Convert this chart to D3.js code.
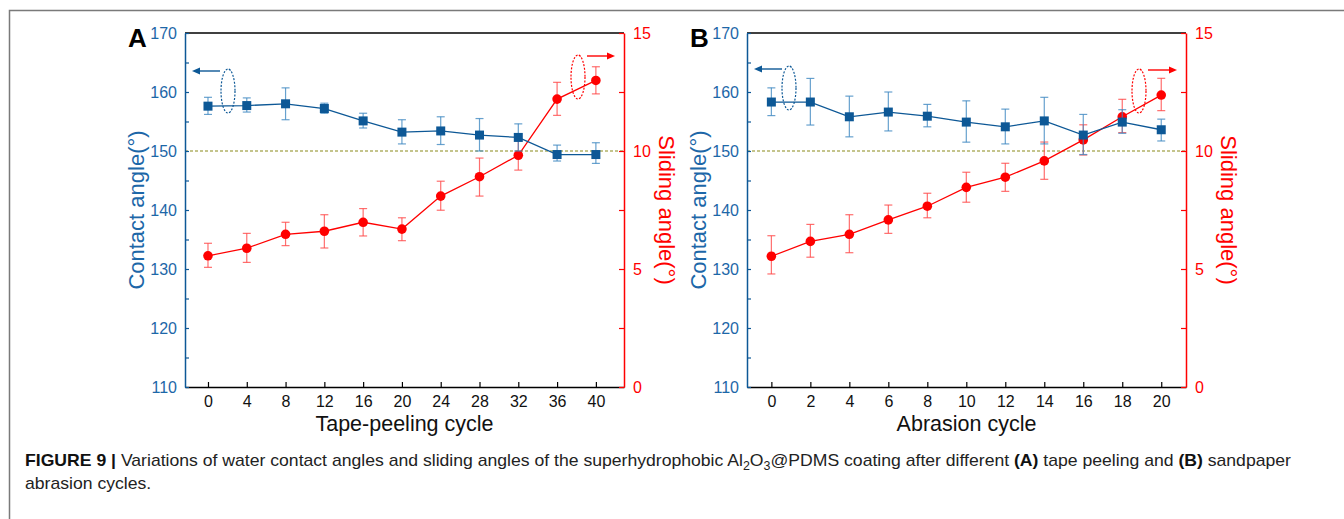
<!DOCTYPE html>
<html>
<head>
<meta charset="utf-8">
<script src="https://cdn.jsdelivr.net/npm/d3@7"></script>
<style>
  body { margin: 0; background: #fff; }
  svg { display: block; font-family: 'Liberation Sans', Arial, sans-serif; }
</style>
</head>
<body>
<div id="chart"></div>
<script>
// panel A: tape peeling
const peelCycles = [0, 4, 8, 12, 16, 20, 24, 28, 32, 36, 40]
const peelContact = [157.6, 157.7, 158.0, 157.2, 155.1, 153.2, 153.4, 152.7, 152.3, 149.4, 149.4]
const peelContactHi = [159.1, 159.0, 160.7, 158.1, 156.4, 155.3, 155.8, 155.5, 154.6, 151.0, 151.4]
const peelContactLo = [156.2, 156.6, 155.3, 156.4, 153.9, 151.2, 151.1, 150.0, 150.0, 148.3, 147.9]
const peelSliding = [5.56, 5.88, 6.47, 6.60, 6.98, 6.69, 8.09, 8.91, 9.82, 12.20, 12.99]
const peelSlidingHi = [6.09, 6.51, 6.98, 7.30, 7.56, 7.17, 8.72, 9.70, 10.44, 12.91, 13.57]
const peelSlidingLo = [5.07, 5.28, 5.99, 5.89, 6.40, 6.20, 7.49, 8.09, 9.19, 11.51, 12.42]

// panel B: sandpaper abrasion
const abrCycles = [0, 2, 4, 6, 8, 10, 12, 14, 16, 18, 20]
const abrContact = [158.3, 158.3, 155.8, 156.6, 155.9, 154.9, 154.1, 155.1, 152.7, 154.9, 153.6]
const abrContactHi = [160.7, 162.3, 159.3, 160.0, 157.9, 158.5, 157.1, 159.1, 156.2, 157.0, 155.4]
const abrContactLo = [156.0, 154.4, 152.4, 153.4, 154.1, 151.5, 151.2, 151.2, 149.4, 153.0, 151.7]
const abrSliding = [5.54, 6.17, 6.47, 7.08, 7.66, 8.46, 8.89, 9.58, 10.47, 11.45, 12.37]
const abrSlidingHi = [6.41, 6.89, 7.30, 7.71, 8.21, 9.10, 9.48, 10.38, 11.11, 12.19, 13.08]
const abrSlidingLo = [4.79, 5.50, 5.69, 6.51, 7.17, 7.83, 8.29, 8.80, 9.83, 10.78, 11.71]

const contactTicks = [110, 120, 130, 140, 150, 160, 170]
const slidingTicks = [0, 5, 10, 15]

const blue = '#0d5896'
const blueText = '#1d67a8'
const red = '#ff0000'

const svg = d3.select('#chart').append('svg')
  .attr('width', 1344)
  .attr('height', 519)

// outer frame
svg.append('path')
  .attr('d', 'M9.5,519 V10.5 H1344')
  .attr('fill', 'none')
  .attr('stroke', '#7a7a7a')
  .attr('stroke-width', 1.5)

function drawPanel ({ letter, left, right, xDomain, cycles, xTicks, contact, cHi, cLo, sliding, sHi, sLo, xLabel, blueMark, redMark }) {
  const top = 33
  const bottom = 387
  const x = d3.scaleLinear().domain(xDomain).range([left, right])
  const yL = d3.scaleLinear().domain([110, 170]).range([bottom, top])
  const yR = d3.scaleLinear().domain([0, 15]).range([bottom, top])
  const g = svg.append('g')

  // 150 degree reference line
  g.append('line')
    .attr('x1', left).attr('x2', right)
    .attr('y1', yL(150)).attr('y2', yL(150))
    .attr('stroke', '#8a8a1a')
    .attr('stroke-width', 1.2)
    .attr('stroke-dasharray', '3,2')

  // top border + bottom axis
  g.append('line')
    .attr('x1', left).attr('x2', right).attr('y1', top).attr('y2', top)
    .attr('stroke', '#000').attr('stroke-width', 1.5)

  const xAxis = g.append('g')
    .attr('transform', `translate(0,${bottom})`)
    .call(d3.axisBottom(x).tickValues(xTicks).tickSizeInner(-5).tickSizeOuter(0).tickPadding(9))
  xAxis.select('.domain').attr('stroke', '#000').attr('stroke-width', 1.5)
  xAxis.selectAll('.tick line').attr('stroke', '#000').attr('stroke-width', 1.2)
  xAxis.selectAll('.tick text').attr('font-size', 16).attr('font-family', 'Liberation Sans, Arial').attr('fill', '#111')

  // left axis
  const yAxisL = g.append('g')
    .attr('transform', `translate(${left},0)`)
    .call(d3.axisLeft(yL).tickValues(d3.range(110, 171, 5)).tickSizeInner(-4).tickSizeOuter(0).tickPadding(8)
      .tickFormat(d => contactTicks.includes(d) ? d : ''))
  yAxisL.select('.domain').attr('stroke', blue).attr('stroke-width', 1.5)
  yAxisL.selectAll('.tick line').attr('stroke', blue).attr('stroke-width', 1.2)
  yAxisL.selectAll('.tick text').attr('font-size', 16).attr('font-family', 'Liberation Sans, Arial').attr('fill', blueText)

  // right axis
  const yAxisR = g.append('g')
    .attr('transform', `translate(${right},0)`)
    .call(d3.axisRight(yR).tickValues(d3.range(0, 15.1, 2.5)).tickSizeInner(-5).tickSizeOuter(0).tickPadding(9)
      .tickFormat(d => slidingTicks.includes(d) ? d : ''))
  yAxisR.select('.domain').attr('stroke', red).attr('stroke-width', 1.5)
  yAxisR.selectAll('.tick line').attr('stroke', red).attr('stroke-width', 1.2)
  yAxisR.selectAll('.tick text').attr('font-size', 16).attr('font-family', 'Liberation Sans, Arial').attr('fill', red)

  // axis titles
  g.append('text')
    .attr('x', (left + right) / 2).attr('y', 431)
    .attr('text-anchor', 'middle')
    .attr('font-size', 21.5).attr('fill', '#111')
    .text(xLabel)
  g.append('text')
    .attr('transform', `translate(${left - 49},${(top + bottom) / 2}) rotate(-90)`)
    .attr('text-anchor', 'middle').attr('dy', '0.35em')
    .attr('font-size', 22).attr('fill', blueText)
    .text('Contact angle(°)')
  g.append('text')
    .attr('transform', `translate(${right + 43},${(top + bottom) / 2}) rotate(90)`)
    .attr('text-anchor', 'middle').attr('dy', '0.35em')
    .attr('font-size', 22).attr('fill', red)
    .text('Sliding angle(°)')

  g.append('text')
    .attr('x', left - 57).attr('y', 47)
    .attr('font-size', 26).attr('font-weight', 'bold').attr('fill', '#000')
    .text(letter)

  // sliding angle series (red)
  const sData = cycles.map((c, i) => ({ c, v: sliding[i], hi: sHi[i], lo: sLo[i] }))
  drawErrorBars(g, sData, x, yR, '#ff4a4a')
  g.append('path')
    .datum(sData)
    .attr('fill', 'none').attr('stroke', red).attr('stroke-width', 1.3)
    .attr('d', d3.line().x(d => x(d.c)).y(d => yR(d.v)))
  g.selectAll('.sdot').data(sData).enter().append('circle')
    .attr('cx', d => x(d.c)).attr('cy', d => yR(d.v)).attr('r', 4.8)
    .attr('fill', red)

  // contact angle series (blue)
  const cData = cycles.map((c, i) => ({ c, v: contact[i], hi: cHi[i], lo: cLo[i] }))
  drawErrorBars(g, cData, x, yL, '#4189c2')
  g.append('path')
    .datum(cData)
    .attr('fill', 'none').attr('stroke', blue).attr('stroke-width', 1.3)
    .attr('d', d3.line().x(d => x(d.c)).y(d => yL(d.v)))
  g.selectAll('.cdot').data(cData).enter().append('rect')
    .attr('x', d => x(d.c) - 4.5).attr('y', d => yL(d.v) - 4.5)
    .attr('width', 9).attr('height', 9)
    .attr('fill', blue)

  // series markers: dashed ellipses with arrows
  drawMarker(g, blueMark, blue, -1)
  drawMarker(g, redMark, red, 1)
}

function drawErrorBars (g, data, x, y, color) {
  const eb = g.append('g').attr('stroke', color).attr('stroke-width', 1.2).attr('stroke-opacity', 0.8)
  data.forEach(d => {
    const cx = x(d.c)
    eb.append('line').attr('x1', cx).attr('x2', cx).attr('y1', y(d.hi)).attr('y2', y(d.lo))
    eb.append('line').attr('x1', cx - 4).attr('x2', cx + 4).attr('y1', y(d.hi)).attr('y2', y(d.hi))
    eb.append('line').attr('x1', cx - 4).attr('x2', cx + 4).attr('y1', y(d.lo)).attr('y2', y(d.lo))
  })
}

function drawMarker (g, m, color, dir) {
  g.append('ellipse')
    .attr('cx', m.cx).attr('cy', m.cy).attr('rx', 7).attr('ry', 22)
    .attr('fill', 'none').attr('stroke', color).attr('stroke-width', 1.2)
    .attr('stroke-dasharray', '2,1.5')
  const x2 = m.ax2
  g.append('line')
    .attr('x1', m.ax1).attr('x2', x2 - dir * 6).attr('y1', m.ay).attr('y2', m.ay)
    .attr('stroke', color).attr('stroke-width', 1.4)
  g.append('path')
    .attr('d', `M${x2},${m.ay} L${x2 - dir * 8},${m.ay - 3.5} L${x2 - dir * 8},${m.ay + 3.5} Z`)
    .attr('fill', color)
}

drawPanel({
  letter: 'A', left: 185, right: 624, xDomain: [-2.37, 42.9],
  cycles: peelCycles, xTicks: peelCycles,
  contact: peelContact, cHi: peelContactHi, cLo: peelContactLo,
  sliding: peelSliding, sHi: peelSlidingHi, sLo: peelSlidingLo,
  xLabel: 'Tape-peeling cycle',
  blueMark: { cx: 228, cy: 91, ax1: 220, ax2: 192, ay: 71 },
  redMark: { cx: 578, cy: 77, ax1: 587, ax2: 615, ay: 56 }
})

drawPanel({
  letter: 'B', left: 747, right: 1186, xDomain: [-1.25, 21.27],
  cycles: abrCycles, xTicks: abrCycles,
  contact: abrContact, cHi: abrContactHi, cLo: abrContactLo,
  sliding: abrSliding, sHi: abrSlidingHi, sLo: abrSlidingLo,
  xLabel: 'Abrasion cycle',
  blueMark: { cx: 789, cy: 88, ax1: 782, ax2: 754, ay: 69 },
  redMark: { cx: 1139, cy: 91, ax1: 1148, ax2: 1177, ay: 70 }
})

// caption
const cap = svg.append('g').attr('fill', '#222').attr('font-size', 17)
const line1 = cap.append('text').attr('x', 0).attr('y', 0)
line1.append('tspan').attr('font-weight', 'bold').attr('fill', '#111').text('FIGURE 9 | ')
line1.append('tspan').text('Variations of water contact angles and sliding angles of the superhydrophobic Al')
line1.append('tspan').attr('font-size', 12).attr('dy', 4).text('2')
line1.append('tspan').attr('dy', -4).text('O')
line1.append('tspan').attr('font-size', 12).attr('dy', 4).text('3')
line1.append('tspan').attr('dy', -4).text('@PDMS coating after different ')
line1.append('tspan').attr('font-weight', 'bold').attr('fill', '#111').text('(A)')
line1.append('tspan').text(' tape peeling and ')
line1.append('tspan').attr('font-weight', 'bold').attr('fill', '#111').text('(B)')
line1.append('tspan').text(' sandpaper')
cap.append('text').attr('x', 0).attr('y', 23).text('abrasion cycles.')
const w = line1.node().getComputedTextLength()
const k = (1292 - 25) / w
cap.attr('transform', `translate(25,466) scale(${k},1)`)
</script>
</body>
</html>
